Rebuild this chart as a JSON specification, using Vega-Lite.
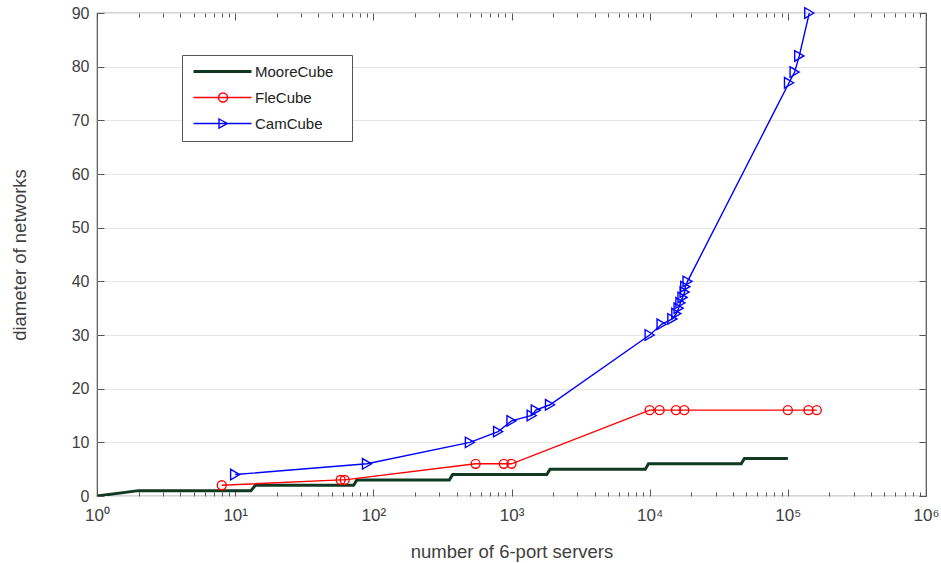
{
  "$schema": "https://vega.github.io/schema/vega-lite/v6.json",
  "width": 829,
  "height": 483,
  "autosize": {"type": "none"},
  "padding": {"left": 97, "top": 13, "right": 15, "bottom": 67},
  "background": "white",
  "config": {
    "view": {"stroke": "#555", "strokeWidth": 1.2},
    "font": "Liberation Sans",
    "axis": {"labelFont": "Liberation Sans", "titleFont": "Liberation Sans", "tickColor": "#555", "labelColor": "#404040", "titleColor": "#404040"}
  },
  "data": {
    "values": [
      {"series": "MooreCube", "n": 1, "d": 0},
      {"series": "MooreCube", "n": 2, "d": 1},
      {"series": "MooreCube", "n": 13, "d": 1},
      {"series": "MooreCube", "n": 14, "d": 2},
      {"series": "MooreCube", "n": 72, "d": 2},
      {"series": "MooreCube", "n": 76, "d": 3},
      {"series": "MooreCube", "n": 355, "d": 3},
      {"series": "MooreCube", "n": 375, "d": 4},
      {"series": "MooreCube", "n": 1800, "d": 4},
      {"series": "MooreCube", "n": 1900, "d": 5},
      {"series": "MooreCube", "n": 9300, "d": 5},
      {"series": "MooreCube", "n": 9800, "d": 6},
      {"series": "MooreCube", "n": 46000, "d": 6},
      {"series": "MooreCube", "n": 48500, "d": 7},
      {"series": "MooreCube", "n": 100000, "d": 7},
      {"series": "FleCube", "n": 8, "d": 2},
      {"series": "FleCube", "n": 58, "d": 3},
      {"series": "FleCube", "n": 62, "d": 3},
      {"series": "FleCube", "n": 550, "d": 6},
      {"series": "FleCube", "n": 880, "d": 6},
      {"series": "FleCube", "n": 1000, "d": 6},
      {"series": "FleCube", "n": 10000, "d": 16},
      {"series": "FleCube", "n": 11800, "d": 16},
      {"series": "FleCube", "n": 15500, "d": 16},
      {"series": "FleCube", "n": 17800, "d": 16},
      {"series": "FleCube", "n": 100000, "d": 16},
      {"series": "FleCube", "n": 141000, "d": 16},
      {"series": "FleCube", "n": 162000, "d": 16},
      {"series": "CamCube", "n": 10, "d": 4},
      {"series": "CamCube", "n": 90, "d": 6},
      {"series": "CamCube", "n": 500, "d": 10},
      {"series": "CamCube", "n": 800, "d": 12},
      {"series": "CamCube", "n": 1000, "d": 14},
      {"series": "CamCube", "n": 1400, "d": 15},
      {"series": "CamCube", "n": 1500, "d": 16},
      {"series": "CamCube", "n": 1900, "d": 17},
      {"series": "CamCube", "n": 10000, "d": 30},
      {"series": "CamCube", "n": 12200, "d": 32},
      {"series": "CamCube", "n": 14600, "d": 33},
      {"series": "CamCube", "n": 15600, "d": 34},
      {"series": "CamCube", "n": 16200, "d": 35},
      {"series": "CamCube", "n": 16700, "d": 36},
      {"series": "CamCube", "n": 17300, "d": 37},
      {"series": "CamCube", "n": 17900, "d": 38},
      {"series": "CamCube", "n": 18100, "d": 39},
      {"series": "CamCube", "n": 18800, "d": 40},
      {"series": "CamCube", "n": 102000, "d": 77},
      {"series": "CamCube", "n": 112000, "d": 79},
      {"series": "CamCube", "n": 121000, "d": 82},
      {"series": "CamCube", "n": 143000, "d": 90}
    ]
  },
  "layer": [
    {
      "transform": [{"filter": "datum.series === 'MooreCube'"}],
      "mark": {"type": "line", "strokeWidth": 3, "clip": true},
      "encoding": {
        "x": {
          "field": "n", "type": "quantitative",
          "scale": {"type": "log", "domain": [1, 1000000]},
          "axis": {
            "orient": "bottom",
            "values": [1,2,3,4,5,6,7,8,9,10,20,30,40,50,60,70,80,90,100,200,300,400,500,600,700,800,900,1000,2000,3000,4000,5000,6000,7000,8000,9000,10000,20000,30000,40000,50000,60000,70000,80000,90000,100000,200000,300000,400000,500000,600000,700000,800000,900000,1000000],
            "labelExpr": "indexof([1,10,100,1000,10000,100000,1000000], datum.value) >= 0 ? '10' + ['⁰','¹','²','³','⁴','⁵','⁶'][indexof([1,10,100,1000,10000,100000,1000000], datum.value)] : ''",
            "tickSize": {"condition": {"test": "indexof([1,10,100,1000,10000,100000,1000000], datum.value) >= 0", "value": -7}, "value": -4},
            "labelPadding": 18,
            "labelFontSize": 17,
            "labelOverlap": false,
            "labelFlush": false,
            "domain": false,
            "grid": false,
            "title": "number of 6-port servers",
            "titleFontSize": 18.5,
            "titleFontWeight": "normal",
            "titlePadding": 16
          }
        },
        "y": {
          "field": "d", "type": "quantitative",
          "scale": {"domain": [0, 90]},
          "axis": {
            "orient": "left",
            "values": [0,10,20,30,40,50,60,70,80,90],
            "tickSize": -7,
            "labelPadding": 15,
            "labelFontSize": 16,
            "domain": false,
            "grid": true,
            "gridColor": "#e6e6e6",
            "title": "diameter of networks",
            "titleFontSize": 18.5,
            "titleFontWeight": "normal",
            "titlePadding": 42
          }
        },
        "color": {
          "field": "series", "type": "nominal",
          "scale": {"domain": ["MooreCube", "FleCube", "CamCube"], "range": ["#0f3a21", "#ff0000", "#0000ff"]},
          "legend": {
            "orient": "none",
            "legendX": 85,
            "legendY": 42,
            "title": null,
            "direction": "vertical",
            "fillColor": "white",
            "strokeColor": "#555",
            "padding": 9,
            "rowPadding": 10,
            "symbolSize": 400,
            "symbolType": "stroke",
            "labelOffset": 49,
            "labelFontSize": 15,
            "labelColor": "#222",
            "encode": {
              "symbols": {
                "update": {
                  "shape": {"signal": "datum.value === 'FleCube' ? 'M-0.5,0H5.3M2.9,0A0.45,0.45 0 1,1 2.0,0A0.45,0.45 0 1,1 2.9,0' : datum.value === 'CamCube' ? 'M-0.5,0H5.3M2.05,-0.45L2.9,0L2.05,0.45Z' : 'M-0.5,0H5.3M13.8,0'"},
                  "strokeWidth": {"signal": "datum.value === 'MooreCube' ? 3 : 1.4"},
                  "fill": {"value": "transparent"}
                }
              }
            }
          }
        }
      }
    },
    {
      "transform": [{"filter": "datum.series !== 'MooreCube'"}],
      "mark": {"type": "line", "strokeWidth": 1.4, "clip": true},
      "encoding": {
        "x": {
          "field": "n", "type": "quantitative",
          "scale": {"type": "log", "domain": [1, 1000000]},
          "axis": {
            "orient": "top",
            "values": [1,2,3,4,5,6,7,8,9,10,20,30,40,50,60,70,80,90,100,200,300,400,500,600,700,800,900,1000,2000,3000,4000,5000,6000,7000,8000,9000,10000,20000,30000,40000,50000,60000,70000,80000,90000,100000,200000,300000,400000,500000,600000,700000,800000,900000,1000000],
            "tickSize": {"condition": {"test": "indexof([1,10,100,1000,10000,100000,1000000], datum.value) >= 0", "value": -7}, "value": -4},
            "labels": false,
            "domain": false,
            "grid": false,
            "title": null
          }
        },
        "y": {
          "field": "d", "type": "quantitative",
          "scale": {"domain": [0, 90]},
          "axis": {
            "orient": "right",
            "values": [0,10,20,30,40,50,60,70,80,90],
            "tickSize": -7,
            "labels": false,
            "domain": false,
            "grid": false,
            "title": null
          }
        },
        "color": {"field": "series", "type": "nominal"}
      }
    },
    {
      "transform": [{"filter": "datum.series !== 'MooreCube'"}],
      "mark": {"type": "point", "filled": false, "strokeWidth": 1.4, "opacity": 1, "clip": false},
      "encoding": {
        "x": {"field": "n", "type": "quantitative", "scale": {"type": "log", "domain": [1, 1000000]}, "axis": null},
        "y": {"field": "d", "type": "quantitative", "scale": {"domain": [0, 90]}, "axis": null},
        "color": {"field": "series", "type": "nominal"},
        "shape": {"field": "series", "type": "nominal", "scale": {"domain": ["FleCube", "CamCube"], "range": ["circle", "triangle-right"]}, "legend": null},
        "size": {"condition": {"test": "datum.series === 'FleCube'", "value": 80}, "value": 110}
      }
    }
  ],
  "resolve": {"axis": {"x": "independent", "y": "independent"}}
}
